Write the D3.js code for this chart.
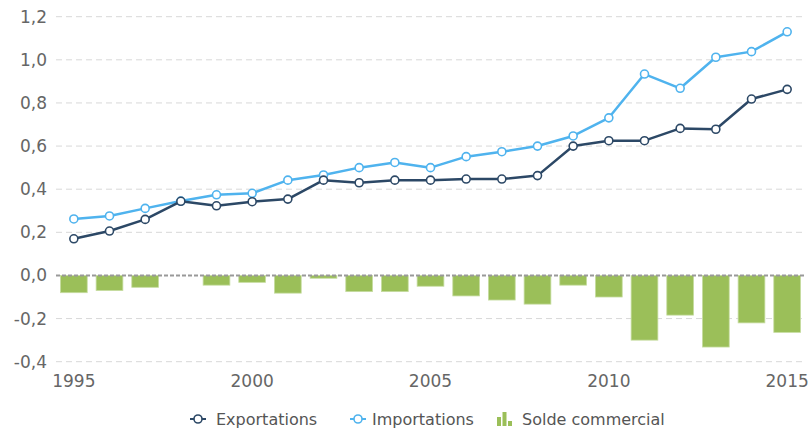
<!DOCTYPE html>
<html>
<head>
<meta charset="utf-8">
<script src="https://cdn.jsdelivr.net/npm/d3@7"></script>
<style>
  body { margin: 0; background: #fff; }
  text { font-family: "DejaVu Sans", sans-serif; }
</style>
</head>
<body>
<div id="chart"></div>
<script>
// data
const years = d3.range(1995, 2016);
const exportations = [0.17, 0.206, 0.26, 0.344, 0.323, 0.342, 0.354, 0.442, 0.43, 0.442, 0.442, 0.447, 0.447, 0.463, 0.600, 0.625, 0.625, 0.682, 0.678, 0.818, 0.863];
const importations = [0.262, 0.276, 0.311, 0.345, 0.374, 0.381, 0.442, 0.466, 0.50, 0.524, 0.50, 0.551, 0.574, 0.600, 0.647, 0.731, 0.934, 0.868, 1.012, 1.038, 1.130];
const solde = [-0.08, -0.07, -0.055, 0, -0.045, -0.032, -0.082, -0.013, -0.075, -0.075, -0.05, -0.095, -0.114, -0.133, -0.045, -0.10, -0.30, -0.184, -0.332, -0.22, -0.264];
const yTicks = [-0.4, -0.2, 0, 0.2, 0.4, 0.6, 0.8, 1.0, 1.2];
const xTicks = [1995, 2000, 2005, 2010, 2015];

const width = 812, height = 431;
const colExp = "#2c4866", colImp = "#4fb3ee", colBar = "#9bbf59";

const svg = d3.select("#chart").append("svg")
    .attr("width", width)
    .attr("height", height);

const x = d3.scaleBand()
    .domain(years)
    .range([56, 805])
    .paddingInner(0.25)
    .paddingOuter(0.125);
const cx = d => x(d) + x.bandwidth() / 2;

const y = d3.scaleLinear().domain([-0.4, 1.2]).range([361.7, 16.7]);

const fmt = v => d3.format(".1f")(v).replace(".", ",").replace("−", "-");

// grid
svg.append("g")
    .selectAll("line")
    .data(yTicks.filter(d => d !== 0))
    .join("line")
    .attr("x1", 56).attr("x2", 805)
    .attr("y1", d => y(d)).attr("y2", d => y(d))
    .attr("stroke", "#d8d8d8")
    .attr("stroke-width", 1)
    .attr("stroke-dasharray", "6,4");

// y labels
svg.append("g")
    .selectAll("text")
    .data(yTicks)
    .join("text")
    .attr("x", 47)
    .attr("y", d => y(d))
    .attr("dy", "0.35em")
    .attr("text-anchor", "end")
    .attr("font-size", 17)
    .attr("fill", "#666")
    .text(fmt);

// x labels
svg.append("g")
    .selectAll("text")
    .data(xTicks)
    .join("text")
    .attr("x", d => cx(d))
    .attr("y", 387)
    .attr("text-anchor", "middle")
    .attr("font-size", 17)
    .attr("fill", "#666")
    .text(d => d);

// bars
svg.append("g")
    .selectAll("rect")
    .data(years.map((yr, i) => ({ yr, v: solde[i] })).filter(d => d.v !== 0))
    .join("rect")
    .attr("x", d => x(d.yr))
    .attr("width", x.bandwidth())
    .attr("y", d => y(Math.max(0, d.v)))
    .attr("height", d => Math.abs(y(d.v) - y(0)))
    .attr("fill", colBar)
    .attr("stroke", "#c6dca0")
    .attr("stroke-width", 0.8);

// zero line
svg.append("line")
    .attr("x1", 56).attr("x2", 805)
    .attr("y1", y(0)).attr("y2", y(0))
    .attr("stroke", "#999")
    .attr("stroke-width", 2)
    .attr("stroke-dasharray", "4,2");

// lines
const line = d3.line().x((d, i) => cx(years[i])).y(d => y(d));
[[importations, colImp], [exportations, colExp]].forEach(([vals, col]) => {
    svg.append("path")
        .datum(vals)
        .attr("d", line)
        .attr("fill", "none")
        .attr("stroke", col)
        .attr("stroke-width", 2.5)
        .attr("stroke-linejoin", "round");
    svg.append("g")
        .selectAll("circle")
        .data(vals)
        .join("circle")
        .attr("cx", (d, i) => cx(years[i]))
        .attr("cy", d => y(d))
        .attr("r", 4)
        .attr("fill", "#fff")
        .attr("stroke", col)
        .attr("stroke-width", 1.6);
});

// legend
const legend = svg.append("g").attr("font-size", 16).attr("fill", "#555");
const ly = 419;
[["Exportations", colExp, 198, 216], ["Importations", colImp, 358, 372]].forEach(([label, col, mx, tx]) => {
    legend.append("line")
        .attr("x1", mx - 8).attr("x2", mx + 8)
        .attr("y1", ly).attr("y2", ly)
        .attr("stroke", col).attr("stroke-width", 2);
    legend.append("circle")
        .attr("cx", mx).attr("cy", ly).attr("r", 4)
        .attr("fill", "#fff").attr("stroke", col).attr("stroke-width", 1.6);
    legend.append("text").attr("x", tx).attr("y", ly).attr("dy", "0.35em").text(label);
});
[[497, 9], [502.5, 14], [508, 5]].forEach(([bx, h]) => {
    legend.append("rect")
        .attr("x", bx).attr("y", ly + 7 - h)
        .attr("width", 4).attr("height", h)
        .attr("fill", colBar);
});
legend.append("text").attr("x", 522).attr("y", ly).attr("dy", "0.35em").text("Solde commercial");
</script>
</body>
</html>
